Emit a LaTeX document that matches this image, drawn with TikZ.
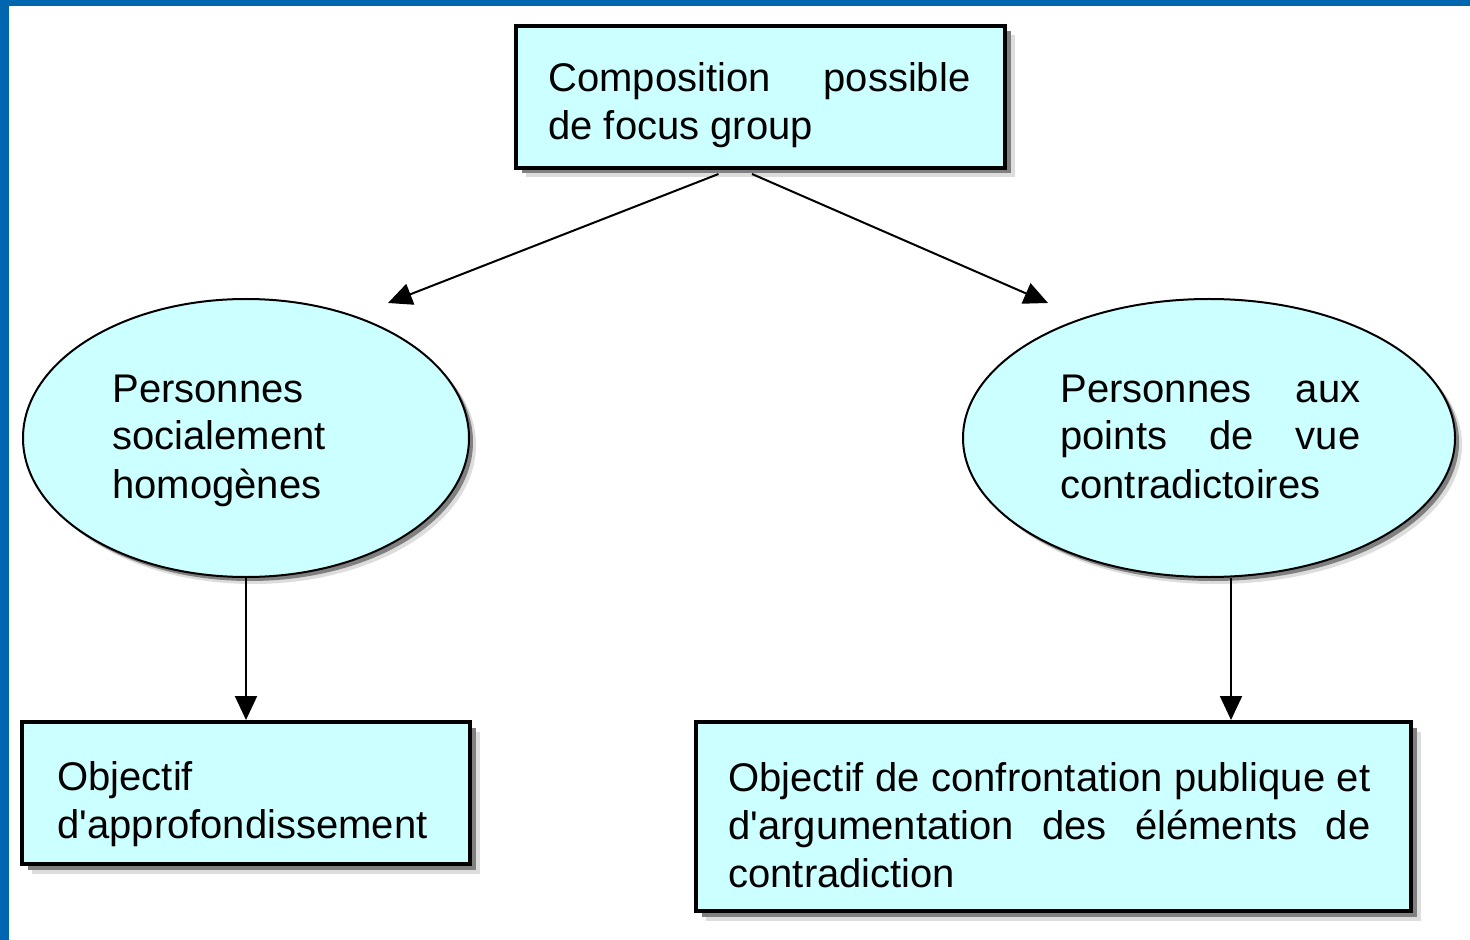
\documentclass[tikz,border=0pt]{standalone}
\usepackage{fontspec}
\setmainfont{Liberation Sans}
\usetikzlibrary{arrows.meta,shapes.geometric,shadows}
\definecolor{frameblue}{RGB}{0,102,175}
\definecolor{boxfill}{RGB}{204,255,255}
\definecolor{shdark}{RGB}{128,128,128}
\definecolor{shlight}{RGB}{221,221,221}
\newcommand{\jl}[2]{\makebox[#1][s]{#2}}
\newcommand{\lns}[1]{\begin{tabular}[t]{@{}l@{}}#1\end{tabular}}
\begin{document}
\begin{tikzpicture}[x=0.5pt,y=-0.5pt,
  box/.style={rectangle, draw=black, line width=2pt, fill=boxfill, inner sep=0pt,
    drop shadow={shadow xshift=4.75pt,shadow yshift=-4.75pt,fill=shlight,opacity=1},
    drop shadow={shadow xshift=2.75pt,shadow yshift=-2.75pt,fill=shdark,opacity=1}},
  oval/.style={ellipse, draw=black, line width=1pt, fill=boxfill, inner sep=0pt,
    drop shadow={shadow xshift=3.5pt,shadow yshift=-3.5pt,fill=shlight,opacity=1},
    drop shadow={shadow xshift=2pt,shadow yshift=-2pt,fill=shdark,opacity=1}},
  txt/.style={anchor=base west, inner sep=0pt, font=\fontsize{20pt}{24pt}\selectfont},
  conn/.style={line width=1pt, -{Triangle[length=12pt,width=11pt]}}]
\useasboundingbox (0,0) rectangle (1470,940);
\fill[white] (0,0) rectangle (1470,940);
\fill[frameblue] (0,0) rectangle (1470,6);
\fill[frameblue] (0,0) rectangle (9,940);

\node[box, minimum width=244.5pt, minimum height=71pt] (top) at (760.5,97) {};
\node[oval, minimum width=223pt, minimum height=139pt] (L) at (246,438) {};
\node[oval, minimum width=246pt, minimum height=139pt] (R) at (1209,438) {};
\node[box, minimum width=224pt, minimum height=71pt] (BL) at (246,793) {};
\node[box, minimum width=357.5pt, minimum height=94.5pt] (BR) at (1053.5,816.5) {};

\node[txt] (ttop) at (548,92) {\lns{\jl{211pt}{Composition possible}\\de focus group}};
\node[txt] (tL) at (112,402) {\lns{Personnes\\socialement\\homogènes}};
\node[txt] (tR) at (1060,402) {\lns{\jl{150pt}{Personnes aux}\\\jl{150pt}{points de vue}\\contradictoires}};
\node[txt] (tBL) at (57,790) {\lns{Objectif\\d\textquotesingle approfondissement}};
\node[txt] (tBR) at (728,791) {\lns{\jl{321pt}{Objectif de confrontation publique et}\\\jl{321pt}{d\textquotesingle argumentation des éléments de}\\contradiction}};

\coordinate (tipL) at (388,303);
\coordinate (tipR) at (1048,303);
\draw[conn] ([xshift=-21pt,yshift=-2pt]top.south) -- (tipL);
\draw[conn] ([xshift=-4.25pt,yshift=-2pt]top.south) -- (tipR);
\draw[conn] (L.south) -- (BL.north);
\draw[conn] ([xshift=11pt]R.south) -- ([xshift=11pt]R.south |- BR.north);
\end{tikzpicture}
\end{document}
